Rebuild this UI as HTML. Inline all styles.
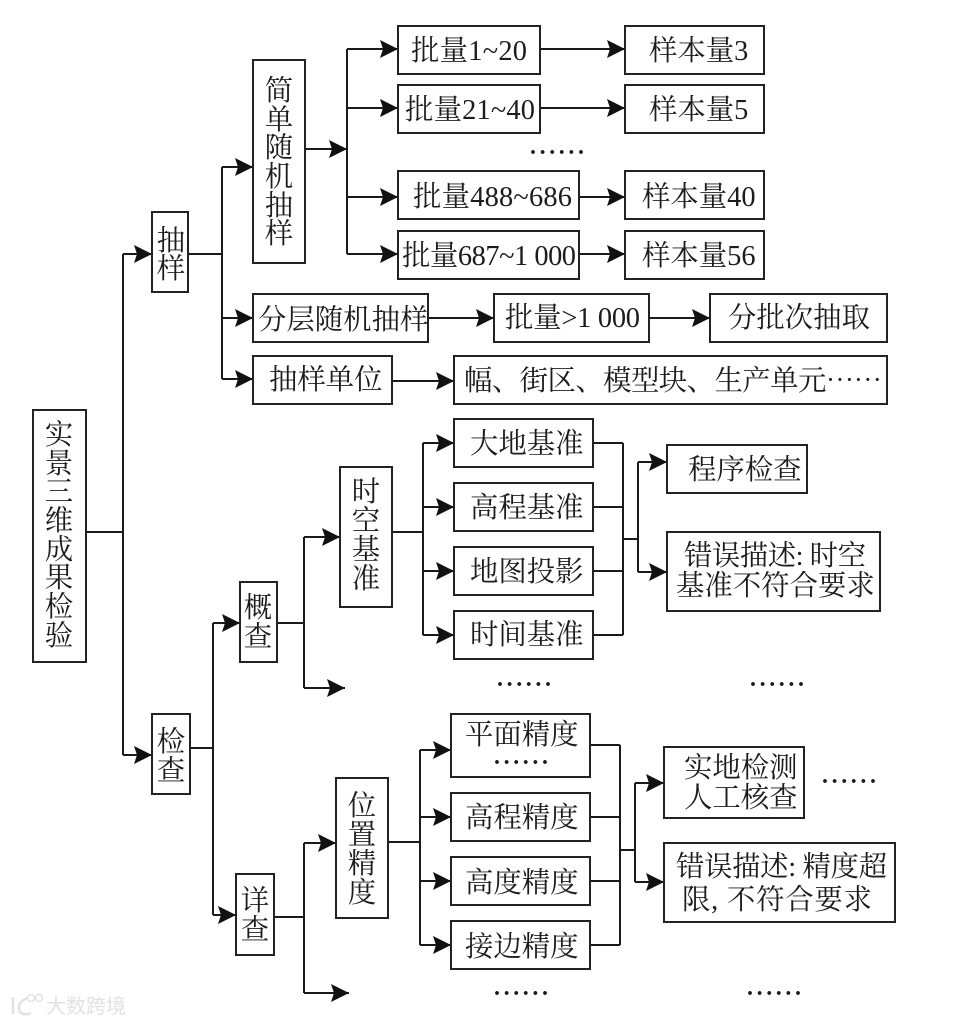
<!DOCTYPE html>
<html><head><meta charset="utf-8">
<style>
html,body{margin:0;padding:0;background:#fff;width:977px;height:1024px;overflow:hidden}
text{font-family:"Liberation Serif","Noto Serif CJK SC",serif;font-size:28.4px;fill:#1c1c1c}
.b{fill:#fff;stroke:#222;stroke-width:2}
.l{fill:none;stroke:#1a1a1a;stroke-width:2}
.a{fill:#111;stroke:none}
text.d{letter-spacing:3.6px;font-size:24px;font-family:"Liberation Serif",serif;font-weight:bold}
</style></head><body>
<svg width="977" height="1024" viewBox="0 0 977 1024" xmlns="http://www.w3.org/2000/svg">
<defs><path id="ar" class="a" d="M0,0 L-18,-9 L-15,0 L-18,9 Z"/></defs>

<!-- connectors -->
<path class="l" d="M86,532H123M123,254V755M123,254H152M123,755H152"/>
<path class="l" d="M188,254H222M222,167V379M222,167H253M222,318H253M222,379H253"/>
<path class="l" d="M305,149H347M347,49V254M347,49H398M347,108H398M347,197H398M347,254H398"/>
<path class="l" d="M540,49H625M540,108H625M579,197H625M579,254H625"/>
<path class="l" d="M428,318H494M649,318H710M392,381H454"/>
<path class="l" d="M190,748H213M213,623V915M213,623H240M213,915H236"/>
<path class="l" d="M277,623H304M304,537V688M304,537H340M304,688H345"/>
<path class="l" d="M392,532H423M423,443V635M423,443H454M423,507H454M423,571H454M423,635H454"/>
<path class="l" d="M593,443H623M593,507H623M593,571H623M593,635H623M623,443V635M623,539H638M638,462V572M638,462H667M638,572H667"/>
<path class="l" d="M274,917H304M304,843V993M304,843H336M304,993H349"/>
<path class="l" d="M388,842H420M420,750V945M420,750H451M420,817H451M420,881H451M420,945H451"/>
<path class="l" d="M590,745H620M590,817H620M590,881H620M590,945H620M620,745V945M620,850H635M635,783V882M635,783H664M635,882H664"/>

<!-- arrowheads -->
<use href="#ar" x="152" y="254"/><use href="#ar" x="152" y="755"/>
<use href="#ar" x="253" y="167"/><use href="#ar" x="253" y="318"/><use href="#ar" x="253" y="379"/>
<use href="#ar" x="347" y="149"/>
<use href="#ar" x="398" y="49"/><use href="#ar" x="398" y="108"/><use href="#ar" x="398" y="197"/><use href="#ar" x="398" y="254"/>
<use href="#ar" x="625" y="49"/><use href="#ar" x="625" y="108"/><use href="#ar" x="625" y="197"/><use href="#ar" x="625" y="254"/>
<use href="#ar" x="494" y="318"/><use href="#ar" x="710" y="318"/><use href="#ar" x="454" y="381"/>
<use href="#ar" x="240" y="623"/><use href="#ar" x="236" y="915"/>
<use href="#ar" x="340" y="537"/><use href="#ar" x="345" y="688"/>
<use href="#ar" x="454" y="443"/><use href="#ar" x="454" y="507"/><use href="#ar" x="454" y="571"/><use href="#ar" x="454" y="635"/>
<use href="#ar" x="667" y="462"/><use href="#ar" x="667" y="572"/>
<use href="#ar" x="336" y="843"/><use href="#ar" x="349" y="993"/>
<use href="#ar" x="451" y="750"/><use href="#ar" x="451" y="817"/><use href="#ar" x="451" y="881"/><use href="#ar" x="451" y="945"/>
<use href="#ar" x="664" y="783"/><use href="#ar" x="664" y="882"/>

<!-- boxes -->
<rect class="b" x="33" y="410" width="53" height="252"/>
<rect class="b" x="152" y="212" width="36" height="80"/>
<rect class="b" x="152" y="714" width="38" height="80"/>
<rect class="b" x="253" y="60" width="52" height="203"/>
<rect class="b" x="398" y="26" width="142" height="48"/>
<rect class="b" x="625" y="26" width="139" height="48"/>
<rect class="b" x="398" y="85" width="142" height="48"/>
<rect class="b" x="625" y="85" width="139" height="48"/>
<rect class="b" x="398" y="171" width="181" height="48"/>
<rect class="b" x="625" y="171" width="139" height="48"/>
<rect class="b" x="398" y="231" width="181" height="48"/>
<rect class="b" x="625" y="231" width="139" height="48"/>
<rect class="b" x="253" y="294" width="175" height="48"/>
<rect class="b" x="494" y="294" width="155" height="48"/>
<rect class="b" x="710" y="294" width="177" height="48"/>
<rect class="b" x="253" y="356" width="139" height="48"/>
<rect class="b" x="454" y="356" width="433" height="48"/>
<rect class="b" x="340" y="467" width="52" height="140"/>
<rect class="b" x="454" y="419" width="139" height="48"/>
<rect class="b" x="454" y="483" width="139" height="48"/>
<rect class="b" x="454" y="547" width="139" height="48"/>
<rect class="b" x="454" y="611" width="139" height="48"/>
<rect class="b" x="667" y="445" width="140" height="48"/>
<rect class="b" x="667" y="532" width="213" height="79"/>
<rect class="b" x="240" y="582" width="37" height="80"/>
<rect class="b" x="236" y="874" width="38" height="81"/>
<rect class="b" x="336" y="778" width="52" height="140"/>
<rect class="b" x="451" y="714" width="139" height="63"/>
<rect class="b" x="451" y="793" width="139" height="48"/>
<rect class="b" x="451" y="857" width="139" height="48"/>
<rect class="b" x="451" y="921" width="139" height="48"/>
<rect class="b" x="664" y="747" width="140" height="71"/>
<rect class="b" x="664" y="843" width="231" height="79"/>

<!-- vertical labels -->
<g text-anchor="middle">
<text x="59" y="444">实</text><text x="59" y="473">景</text><text x="59" y="501">三</text><text x="59" y="530">维</text><text x="59" y="559">成</text><text x="59" y="587">果</text><text x="59" y="616">检</text><text x="59" y="645">验</text>
<text x="171" y="250">抽</text><text x="171" y="278">样</text>
<text x="171" y="751">检</text><text x="171" y="780">查</text>
<text x="279" y="100">简</text><text x="279" y="129">单</text><text x="279" y="157">随</text><text x="279" y="186">机</text><text x="279" y="215">抽</text><text x="279" y="243">样</text>
<text x="366" y="501">时</text><text x="366" y="530">空</text><text x="366" y="559">基</text><text x="366" y="588">准</text>
<text x="258" y="617">概</text><text x="258" y="646">查</text>
<text x="255" y="910">详</text><text x="255" y="939">查</text>
<text x="362" y="815">位</text><text x="362" y="844">置</text><text x="362" y="873">精</text><text x="362" y="902">度</text>
</g>

<!-- horizontal labels -->
<text x="411" y="60" textLength="116">批量1~20</text>
<text x="649" y="60">样本量3</text>
<text x="405" y="119" textLength="130">批量21~40</text>
<text x="649" y="119">样本量5</text>
<text x="413" y="206" textLength="159">批量488~686</text>
<text x="642" y="206">样本量40</text>
<text x="402" y="265" textLength="174">批量687~1 000</text>
<text x="642" y="265">样本量56</text>
<text x="258" y="329">分层随机抽样</text>
<text x="505" y="327" textLength="135">批量&gt;1 000</text>
<text x="728" y="327">分批次抽取</text>
<text x="269" y="389">抽样单位</text>
<text x="464" y="390" textLength="418">幅、街区、模型块、生产单元<tspan style="font-family:'Noto Serif CJK SC',serif">……</tspan></text>
<text x="470" y="453">大地基准</text>
<text x="470" y="517">高程基准</text>
<text x="470" y="581">地图投影</text>
<text x="470" y="644">时间基准</text>
<text x="688" y="479">程序检查</text>
<text x="684" y="565" textLength="182">错误描述: 时空</text>
<text x="676" y="595">基准不符合要求</text>
<text x="465" y="744">平面精度</text>
<text x="465" y="827">高程精度</text>
<text x="465" y="892">高度精度</text>
<text x="465" y="956">接边精度</text>
<text x="684" y="777">实地检测</text>
<text x="684" y="807">人工核查</text>
<text x="676" y="876" textLength="211">错误描述: 精度超</text>
<text x="682" y="909" textLength="190">限, 不符合要求</text>

<!-- dots -->
<text class="d" x="530" y="154">......</text>
<text class="d" x="497" y="686">......</text>
<text class="d" x="750" y="686">......</text>
<text class="d" x="494" y="764">......</text>
<text class="d" x="822" y="783">......</text>
<text class="d" x="494" y="995">......</text>
<text class="d" x="747" y="995">......</text>

<!-- watermark -->
<text x="46" y="1013" style="font-family:'Liberation Sans','Noto Sans CJK SC',sans-serif;font-size:20px;fill:#e2e2e2">大数跨境</text>
<path d="M13,997V1014M27,998Q16,1003 20,1012Q24,1016 31,1013" fill="none" stroke="#e2e2e2" stroke-width="2.5"/>
<circle cx="31" cy="998" r="3.5" fill="none" stroke="#e2e2e2" stroke-width="1.5"/>
<circle cx="39" cy="998" r="3.5" fill="none" stroke="#e2e2e2" stroke-width="1.5"/>
</svg>
</body></html>
